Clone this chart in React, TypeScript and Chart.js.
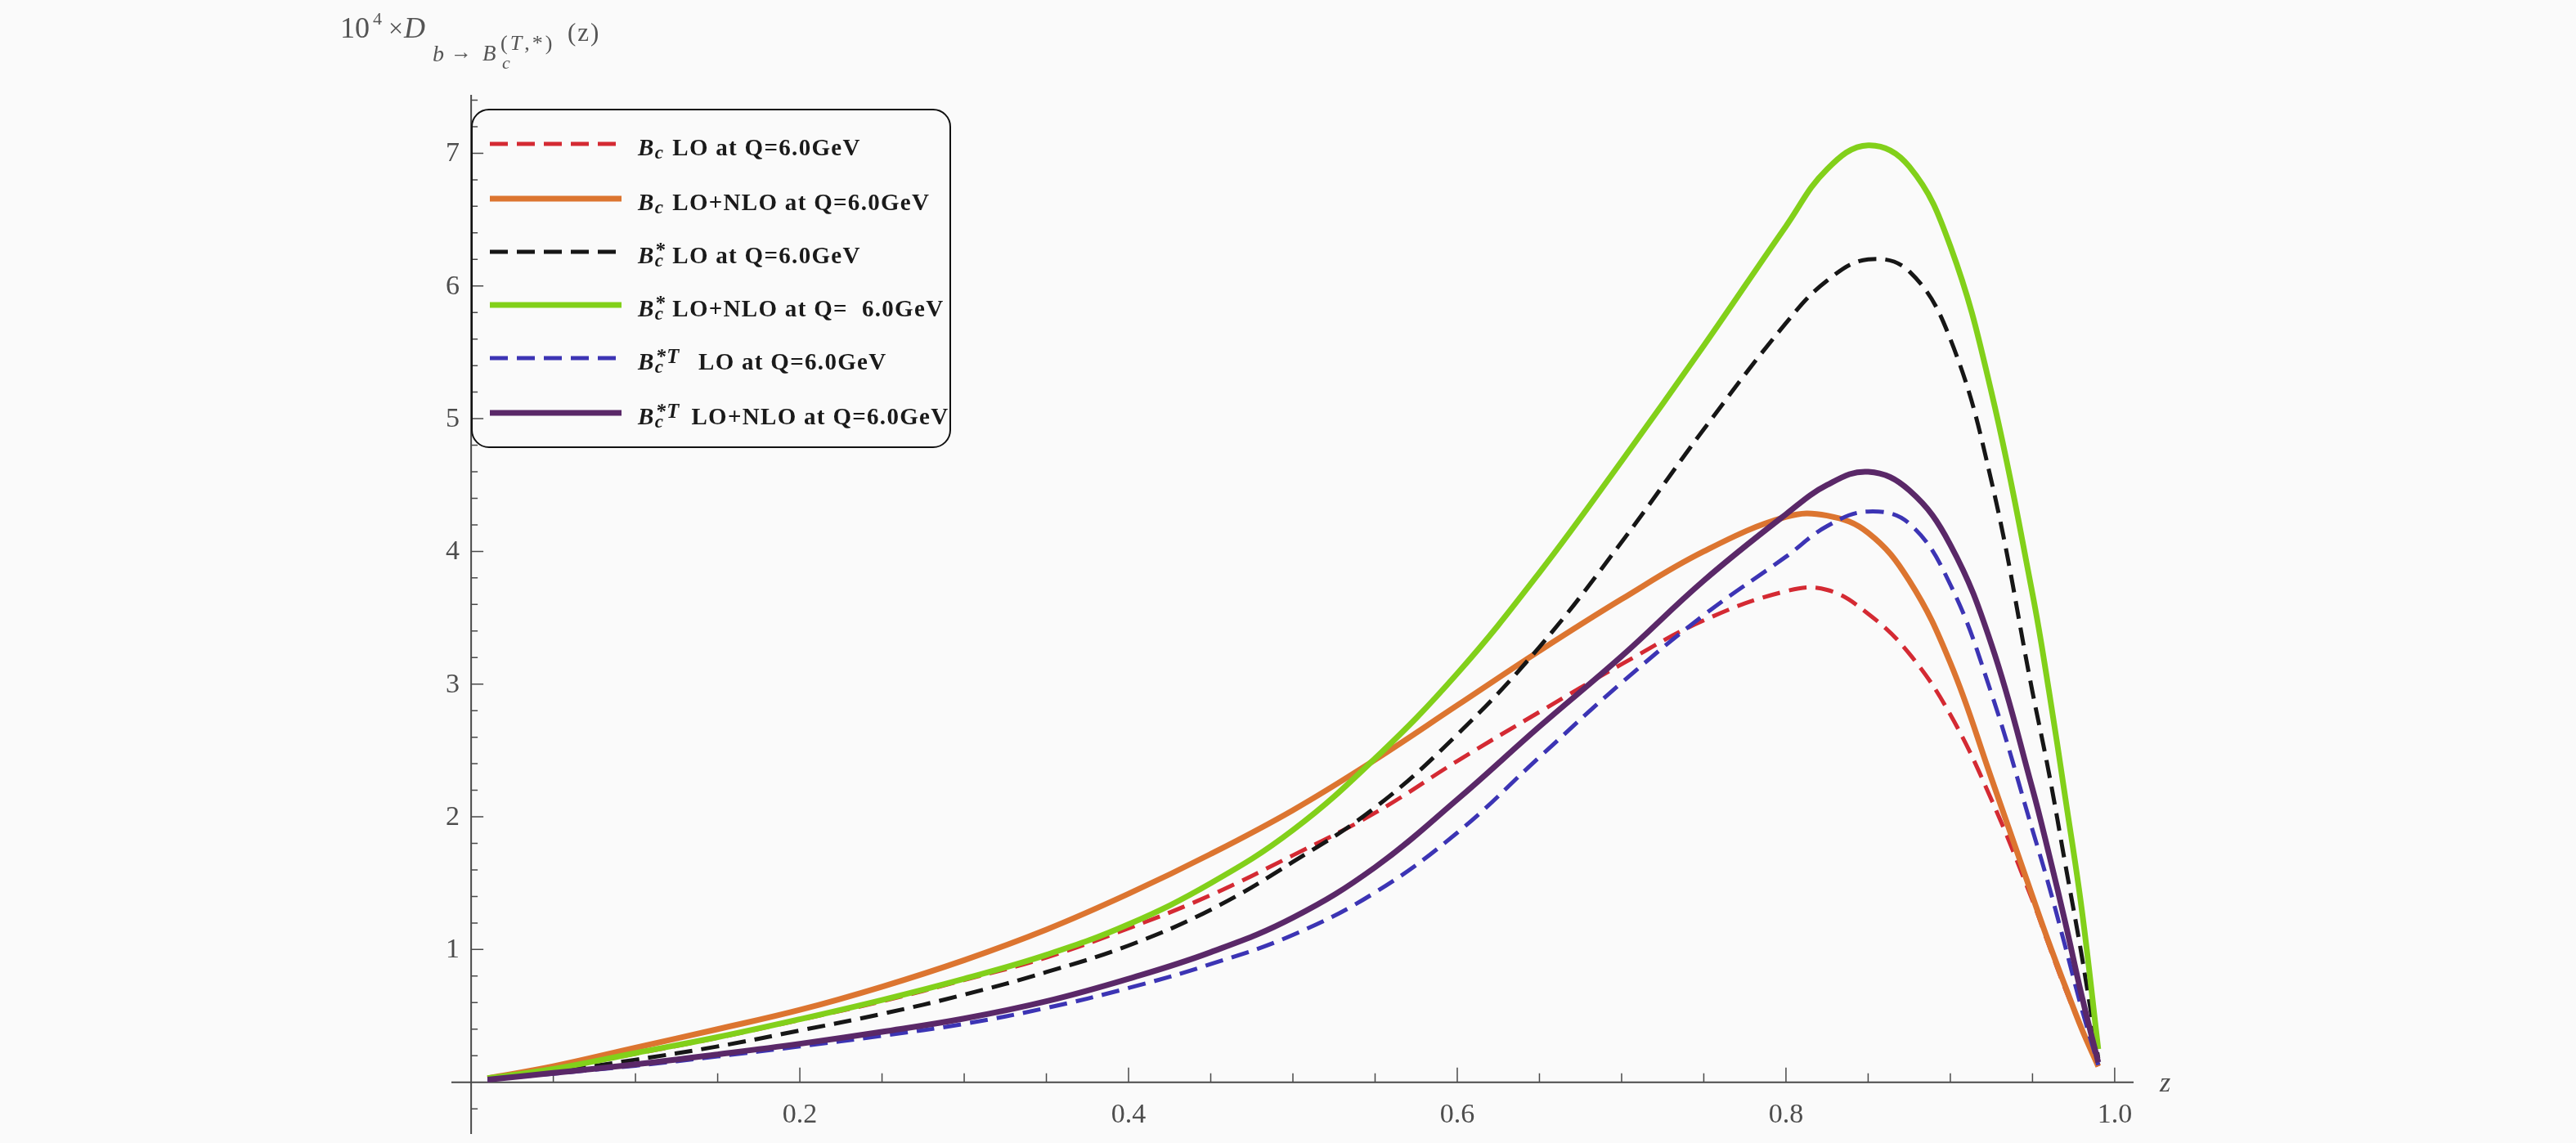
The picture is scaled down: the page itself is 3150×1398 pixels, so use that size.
import { useEffect, useRef } from 'react';
import { Chart, registerables } from 'chart.js';

Chart.register(...registerables);

// z grid shared by every curve
const zValues = [0.01, 0.05, 0.1, 0.15, 0.2, 0.25, 0.3, 0.35, 0.4, 0.45, 0.5, 0.55, 0.6, 0.65, 0.7, 0.75, 0.8, 0.825, 0.85, 0.875, 0.9, 0.925, 0.95, 0.96, 0.97, 0.98, 0.99];

// 10^4 x D(z)
const bcLO = [0.03, 0.10, 0.215, 0.335, 0.47, 0.61, 0.77, 0.94, 1.16, 1.41, 1.71, 2.03, 2.42, 2.79, 3.15, 3.48, 3.70, 3.71, 3.53, 3.23, 2.77, 2.13, 1.37, 1.03, 0.70, 0.40, 0.12];
const bcNLO = [0.03, 0.12, 0.26, 0.40, 0.545, 0.72, 0.92, 1.15, 1.42, 1.72, 2.05, 2.43, 2.84, 3.25, 3.64, 4.00, 4.26, 4.27, 4.14, 3.78, 3.16, 2.29, 1.40, 1.05, 0.72, 0.40, 0.12];
const bcStarLO = [0.02, 0.08, 0.17, 0.27, 0.39, 0.515, 0.66, 0.83, 1.03, 1.30, 1.66, 2.07, 2.62, 3.28, 4.07, 4.92, 5.72, 6.04, 6.20, 6.11, 5.60, 4.53, 2.94, 2.33, 1.64, 0.95, 0.18];
const bcStarNLO = [0.03, 0.10, 0.22, 0.34, 0.475, 0.62, 0.78, 0.96, 1.19, 1.50, 1.90, 2.44, 3.08, 3.84, 4.68, 5.55, 6.45, 6.88, 7.06, 6.90, 6.30, 5.20, 3.68, 2.95, 2.14, 1.30, 0.25];
const bcStarTLO = [0.02, 0.065, 0.125, 0.195, 0.27, 0.35, 0.44, 0.56, 0.71, 0.89, 1.11, 1.43, 1.88, 2.45, 3.01, 3.52, 3.96, 4.19, 4.30, 4.21, 3.75, 2.93, 1.90, 1.48, 1.02, 0.55, 0.13];
const bcStarTNLO = [0.02, 0.07, 0.135, 0.21, 0.29, 0.38, 0.48, 0.61, 0.78, 0.98, 1.24, 1.62, 2.13, 2.68, 3.21, 3.78, 4.28, 4.50, 4.60, 4.46, 4.05, 3.30, 2.21, 1.72, 1.20, 0.65, 0.15];

// axis ticks
const xTickValues = [0.2, 0.4, 0.6, 0.8, 1.0];
const yTickValues = [1, 2, 3, 4, 5, 6, 7];

const series = [
  { values: bcLO, color: '#d42a33', dashed: true, sup: '', rest: ' LO at Q=6.0GeV' },
  { values: bcNLO, color: '#dc7530', dashed: false, sup: '', rest: ' LO+NLO at Q=6.0GeV' },
  { values: bcStarLO, color: '#161616', dashed: true, sup: '*', rest: ' LO at Q=6.0GeV' },
  { values: bcStarNLO, color: '#82d01a', dashed: false, sup: '*', rest: ' LO+NLO at Q=  6.0GeV' },
  { values: bcStarTLO, color: '#3c34b4', dashed: true, sup: '*T', rest: '  LO at Q=6.0GeV' },
  { values: bcStarTNLO, color: '#5a2868', dashed: false, sup: '*T', rest: ' LO+NLO at Q=6.0GeV' },
];

const W = 3150;
const H = 1398;
const serif = '"Liberation Serif", "Times New Roman", serif';
const axisColor = '#4a4a4a';
const labelColor = '#4d4d4d';

const mathAxes = {
  id: 'mathAxes',
  beforeDatasetsDraw(chart: any) {
    const { ctx } = chart;
    const x = chart.scales.x;
    const y = chart.scales.y;
    const x0 = x.getPixelForValue(0);
    const y0 = y.getPixelForValue(0);
    ctx.save();
    ctx.strokeStyle = axisColor;
    ctx.lineWidth = 2;
    ctx.beginPath();
    ctx.moveTo(x.left, y0);
    ctx.lineTo(x.right, y0);
    ctx.moveTo(x0, y.top);
    ctx.lineTo(x0, y.bottom);
    ctx.stroke();

    // x ticks point up into the plot
    ctx.lineWidth = 1.5;
    ctx.beginPath();
    for (let k = 1; k <= 20; k++) {
      const px = x.getPixelForValue(k * 0.05);
      const major = k % 4 === 0;
      ctx.moveTo(px, y0);
      ctx.lineTo(px, y0 - (major ? 18 : 11));
    }
    // y ticks point right
    for (let k = -1; k <= 37; k++) {
      if (k === 0) continue;
      const py = y.getPixelForValue(k * 0.2);
      const major = k % 5 === 0;
      ctx.moveTo(x0, py);
      ctx.lineTo(x0 + (major ? 15 : 8), py);
    }
    ctx.stroke();

    ctx.fillStyle = labelColor;
    ctx.font = `34px ${serif}`;
    ctx.textAlign = 'center';
    ctx.textBaseline = 'alphabetic';
    xTickValues.forEach((v) => {
      ctx.fillText(v.toFixed(1), x.getPixelForValue(v), y0 + 49);
    });
    ctx.textAlign = 'right';
    ctx.textBaseline = 'middle';
    yTickValues.forEach((v) => {
      ctx.fillText(String(v), x0 - 14, y.getPixelForValue(v) + 1);
    });
    ctx.textAlign = 'left';
    ctx.font = `italic 34px ${serif}`;
    ctx.fillText('z', x.right + 32, y0 + 2);
    ctx.restore();
  },
};

// place a piece of text by its baseline
function at(left: number, baseline: number, size: number, extra: any = {}) {
  return {
    position: 'absolute' as const,
    left,
    top: baseline - 0.8375 * size,
    fontSize: size,
    lineHeight: `${size}px`,
    whiteSpace: 'pre' as const,
    ...extra,
  };
}

const legendYs = [176, 243, 308, 373, 438, 505];

function LegendLabel({ sup, rest, y }: { sup: string; rest: string; y: number }) {
  const stackW = sup.length > 1 ? '1.25em' : '0.45em';
  return (
    <div style={at(780, y + 9, 29, { fontWeight: 'bold', letterSpacing: '1.3px', color: '#1a1a1a' })}>
      <span style={{ fontStyle: 'italic' }}>B</span>
      <span style={{ display: 'inline-block', position: 'relative', width: stackW, height: '1em' }}>
        {sup && (
          <span style={{ position: 'absolute', left: 1, top: '0.07em', fontSize: '0.85em', lineHeight: 1, fontStyle: sup.length > 1 ? 'italic' : 'normal' }}>
            {sup}
          </span>
        )}
        <span style={{ position: 'absolute', left: 0, top: '0.63em', fontSize: '0.8em', lineHeight: 1, fontStyle: 'italic' }}>c</span>
      </span>
      <span>{rest}</span>
    </div>
  );
}

export default function App() {
  const canvasRef = useRef<HTMLCanvasElement>(null);
  const chartRef = useRef<Chart | null>(null);

  useEffect(() => {
    if (!canvasRef.current) return;
    chartRef.current = new Chart(canvasRef.current, {
      type: 'line',
      data: {
        datasets: series.map((s, i) => ({
          label: s.rest.trim(),
          data: zValues.map((z, k) => ({ x: z, y: s.values[k] })),
          borderColor: s.color,
          borderWidth: s.dashed ? 5 : 7,
          borderDash: s.dashed ? [22, 11] : [],
          pointRadius: 0,
          fill: false,
          tension: 0.4,
          order: series.length - 1 - i,
        })),
      },
      options: {
        responsive: false,
        animation: false,
        events: [],
        layout: { padding: { left: 552, right: 541, top: 116, bottom: 11 } },
        scales: {
          x: { type: 'linear', min: -0.012, max: 1.0115, display: false },
          y: { type: 'linear', min: -0.39, max: 7.44, display: false },
        },
        plugins: {
          legend: { display: false },
          tooltip: { enabled: false },
        },
      },
      plugins: [mathAxes],
    });
    return () => {
      chartRef.current?.destroy();
    };
  }, []);

  return (
    <div style={{ position: 'fixed', left: 0, top: 0, width: W, height: H, background: '#fafafa', fontFamily: serif, overflow: 'hidden' }}>
      <canvas ref={canvasRef} width={W} height={H} style={{ position: 'absolute', left: 0, top: 0 }} />

      {/* axis title */}
      <div style={{ color: '#555' }}>
        <span style={at(416, 46, 36)}>10</span>
        <span style={at(456, 30, 22)}>4</span>
        <span style={at(475, 45, 32)}>×</span>
        <span style={at(494, 46, 36, { fontStyle: 'italic' })}>D</span>
        <span style={at(529, 75, 28, { fontStyle: 'italic' })}>b</span>
        <span style={at(551, 73, 26)}>→</span>
        <span style={at(590, 75, 27, { fontStyle: 'italic' })}>B</span>
        <span style={at(614, 84, 22, { fontStyle: 'italic' })}>c</span>
        <span style={at(612, 62, 26, { letterSpacing: '3px' })}>
          (<span style={{ fontStyle: 'italic' }}>T</span>,*)
        </span>
        <span style={at(694, 50, 31, { letterSpacing: '2px' })}>(z)</span>
      </div>

      {/* legend */}
      <div
        style={{
          position: 'absolute',
          left: 576,
          top: 133,
          width: 587,
          height: 415,
          boxSizing: 'border-box',
          border: '2.5px solid #111',
          borderRadius: 22,
        }}
      />
      <svg width={W} height={H} style={{ position: 'absolute', left: 0, top: 0 }}>
        {series.map((s, i) => (
          <line
            key={i}
            x1={599}
            x2={760}
            y1={legendYs[i]}
            y2={legendYs[i]}
            stroke={s.color}
            strokeWidth={s.dashed ? 5 : 7}
            strokeDasharray={s.dashed ? '22 11' : undefined}
          />
        ))}
      </svg>
      {series.map((s, i) => (
        <LegendLabel key={i} sup={s.sup} rest={s.rest} y={legendYs[i]} />
      ))}
    </div>
  );
}
